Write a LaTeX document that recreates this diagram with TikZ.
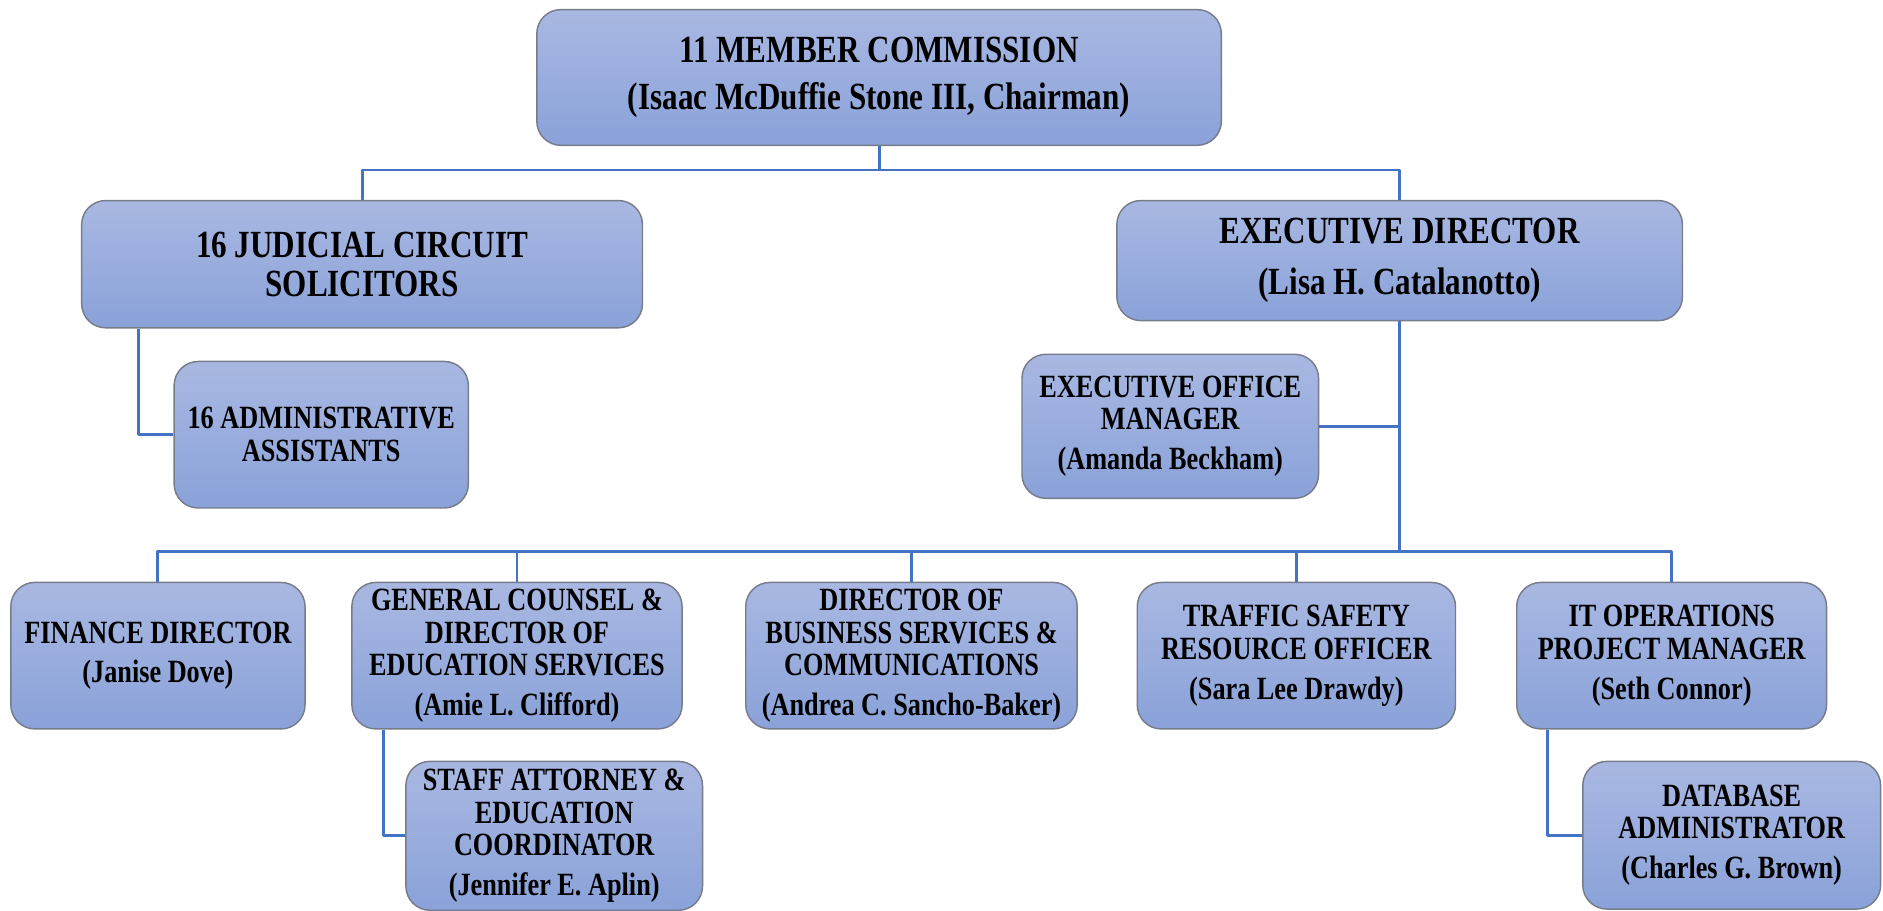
\documentclass[tikz,border=0pt]{standalone}
\usepackage{fontspec}
\setmainfont{Liberation Serif}[FakeStretch=0.81]
\definecolor{boxtop}{HTML}{A9B8E2}
\definecolor{boxbot}{HTML}{8AA2D9}
\definecolor{boxline}{HTML}{767C8A}
\definecolor{linkblue}{HTML}{4472C4}
\begin{document}
\begin{tikzpicture}[x=0.5pt,y=-0.5pt,line join=round,
  box/.style={draw=boxline,line width=0.6pt,rounded corners=10pt,top color=boxtop,bottom color=boxbot,
    align=center,inner sep=0pt,font=\bfseries\fontsize{13.5}{13.6}\selectfont},
  big/.style={font=\bfseries\fontsize{16}{16.1}\selectfont},
  conn/.style={draw=linkblue,line width=1.2pt}]
\useasboundingbox (0,0) rectangle (1568,758);
% boxes
\node[box,big,minimum width=285pt,minimum height=56.5pt] (comm) at (732,64.5)
  {11 MEMBER COMMISSION\\[3.5pt](Isaac McDuffie Stone III, Chairman)};
\node[box,big,minimum width=233.5pt,minimum height=53pt] (judic) at (301.5,220)
  {16 JUDICIAL CIRCUIT\\SOLICITORS};
\node[box,big,minimum width=235.5pt,minimum height=50pt] (exec) at (1165.5,217)
  {EXECUTIVE DIRECTOR\\[5pt](Lisa H. Catalanotto)};
\node[box,minimum width=122.5pt,minimum height=61pt] (admin) at (267.5,362)
  {16 ADMINISTRATIVE\\ASSISTANTS};
\node[box,minimum width=123.5pt,minimum height=60pt] (eom) at (974.5,355)
  {EXECUTIVE OFFICE\\MANAGER\\[3pt](Amanda Beckham)};
\node[box,minimum width=122.5pt,minimum height=61pt] (fin) at (131.5,546)
  {FINANCE DIRECTOR\\[3pt](Janise Dove)};
\node[box,minimum width=137.5pt,minimum height=61pt] (gc) at (430.5,546)
  {GENERAL COUNSEL \&\\DIRECTOR OF\\EDUCATION SERVICES\\[3pt](Amie L. Clifford)};
\node[box,minimum width=138pt,minimum height=61pt] (dbs) at (759,546)
  {DIRECTOR OF\\BUSINESS SERVICES \&\\COMMUNICATIONS\\[3pt](Andrea C. Sancho-Baker)};
\node[box,minimum width=132.5pt,minimum height=61pt] (tsro) at (1079.5,546)
  {TRAFFIC SAFETY\\RESOURCE OFFICER\\[3pt](Sara Lee Drawdy)};
\node[box,minimum width=129pt,minimum height=61pt] (itpm) at (1392,546)
  {IT OPERATIONS\\PROJECT MANAGER\\[3pt](Seth Connor)};
\node[box,minimum width=123.5pt,minimum height=62pt] (staff) at (461.5,696)
  {STAFF ATTORNEY \&\\EDUCATION\\COORDINATOR\\[3pt](Jennifer E. Aplin)};
\node[box,minimum width=124pt,minimum height=61.5pt] (dba) at (1442,695.5)
  {DATABASE\\ADMINISTRATOR\\[3pt](Charles G. Brown)};
% links
\draw[conn] (comm.south) -- ++(0,20) coordinate (top) -| (judic.north);
\draw[conn] (top) -| (exec.north);
\draw[conn] ([xshift=24pt]judic.south west) |- (admin.west);
\draw[conn] (exec.south) -- (exec.south |- 0,459) coordinate (bus);
\draw[conn] (eom.east) -- (eom.east -| exec.south);
\foreach \n in {fin,gc,dbs,tsro,itpm}
  \draw[conn] (\n.north) |- (bus);
\draw[conn] ([xshift=13.5pt]gc.south west) |- (staff.west);
\draw[conn] ([xshift=13pt]itpm.south west) |- (dba.west);
\end{tikzpicture}
\end{document}
